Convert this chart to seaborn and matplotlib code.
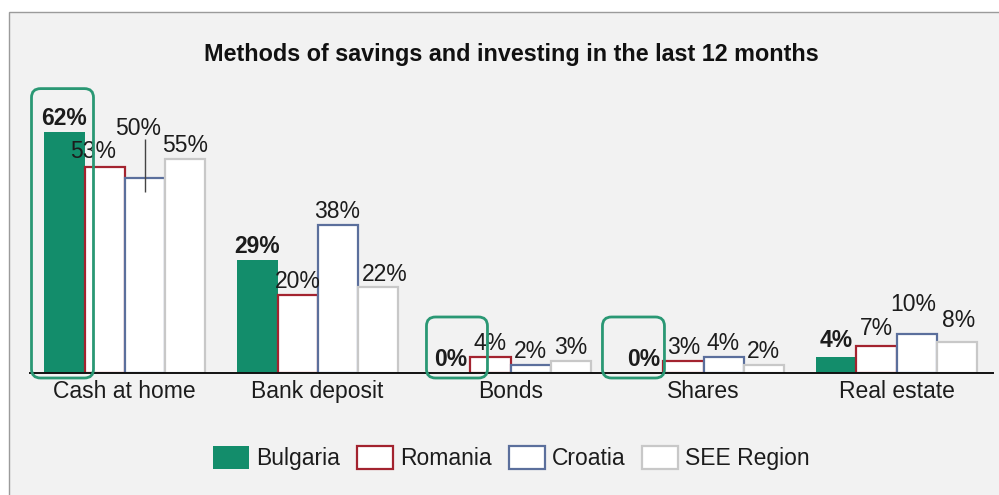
import matplotlib
matplotlib.use("Agg")
import matplotlib.pyplot as plt
import matplotlib.transforms as mtransforms
from matplotlib.patches import FancyBboxPatch, Rectangle
import pandas as pd
import seaborn as sns

# ---- data -------------------------------------------------------------
categories = ["Cash at home", "Bank deposit", "Bonds", "Shares", "Real estate"]
series = ["Bulgaria", "Romania", "Croatia", "SEE Region"]
bulgaria = [62, 29, 0, 0, 4]
romania = [53, 20, 4, 3, 7]
croatia = [50, 38, 2, 4, 10]
see_region = [55, 22, 3, 2, 8]
title = "Methods of savings and investing in the last 12 months"

values = {"Bulgaria": bulgaria, "Romania": romania,
          "Croatia": croatia, "SEE Region": see_region}
df = pd.DataFrame(
    [(c, s, values[s][i]) for s in series for i, c in enumerate(categories)],
    columns=["category", "series", "value"],
)

# ---- styling ----------------------------------------------------------
GREEN = "#138d6b"
fill = {"Bulgaria": GREEN, "Romania": "white", "Croatia": "white", "SEE Region": "white"}
edge = {"Bulgaria": GREEN, "Romania": "#a3232f", "Croatia": "#5b6f9c", "SEE Region": "#c8c8c8"}
edge_w = {"Bulgaria": 0.0, "Romania": 1.6, "Croatia": 1.6, "SEE Region": 1.6}

sns.set_theme(style="white")
plt.rcParams["font.family"] = ["Liberation Sans", "DejaVu Sans"]
TXT = "#1c1c1c"

W, H = 999, 495
fig = plt.figure(figsize=(W / 100, H / 100), dpi=100)
fig.patch.set_facecolor("white")

# grey panel with a thin border behind the chart
fig.add_artist(Rectangle((9 / W, -0.05), 1.0, (H - 12) / H + 0.05,
                         transform=fig.transFigure, facecolor="#f2f2f2",
                         edgecolor="#9b9b9b", linewidth=1.0, zorder=-10))

base_px, top_px = 373, 81
ax = fig.add_axes([30 / W, (H - base_px) / H, (993 - 30) / W, (base_px - top_px) / H])
ax.set_facecolor("none")

sns.barplot(data=df, x="category", y="value", hue="series",
            order=categories, hue_order=series, palette=fill,
            saturation=1, width=0.83, errorbar=None, legend=False, ax=ax)

for s, cont in zip(series, ax.containers):
    for p in cont.patches:
        p.set_edgecolor(edge[s])
        p.set_linewidth(edge_w[s])

ax.set_xlim(-0.49, 4.5)
ax.set_ylim(0, 75)
ax.set_xlabel("")
ax.set_ylabel("")
ax.set_yticks([])
for side in ("top", "left", "right"):
    ax.spines[side].set_visible(False)
ax.spines["bottom"].set_color("#111111")
ax.spines["bottom"].set_linewidth(1.4)
ax.tick_params(axis="x", length=0, pad=5, labelsize=16.5, labelcolor=TXT)

PT = 0.72  # points per pixel at 100 dpi

# value labels; a few are nudged (in pixels) to avoid overlaps
nudge = {
    ("Romania", 0): (-11, 9),
    ("SEE Region", 1): (7, 6),
    ("Bulgaria", 4): (0, 10),
    ("Romania", 4): (0, 11),
    ("Croatia", 4): (-3, 23),
    ("SEE Region", 4): (2, 15),
}
ppu = ax.transData.transform((0, 1))[1] - ax.transData.transform((0, 0))[1]
for s, cont in zip(series, ax.containers):
    for i, p in enumerate(cont.patches):
        v = values[s][i]
        xc = p.get_x() + p.get_width() / 2
        h = p.get_height()
        weight = "bold" if s == "Bulgaria" else "normal"
        if (s, i) == ("Croatia", 0):
            # label lifted above the neighbours with a leader line
            ax.plot([xc, xc], [h - 14 / ppu, h + 39 / ppu], color="#444444",
                    lw=1.0, solid_capstyle="butt", zorder=5)
            dx, dy = -6, 43
        else:
            dx, dy = nudge.get((s, i), (0, 7))
        ax.annotate(f"{v}%", (xc, h), xytext=(dx * PT, dy * PT),
                    textcoords="offset points", ha="center", va="baseline",
                    fontsize=16.5, fontweight=weight, color=TXT,
                    annotation_clip=False, zorder=6)

# rounded highlight frames around selected Bulgaria results
highlights = [(0, -33, 29, 43), (2, -24, 37, 56), (3, -41, 21, 56)]
ident = mtransforms.IdentityTransform()
for idx, left, right, above in highlights:
    p = ax.containers[0].patches[idx]
    xc = p.get_x() + p.get_width() / 2
    cx, ytop = ax.transData.transform((xc, p.get_height()))
    _, ybase = ax.transData.transform((xc, 0))
    x0, x1 = cx + left, cx + right
    y0, y1 = ybase - 5, ytop + above
    fig.add_artist(FancyBboxPatch((x0, y0), x1 - x0, y1 - y0,
                                  boxstyle="round,pad=0,rounding_size=9",
                                  transform=ident, facecolor="none",
                                  edgecolor="#2a9874", linewidth=2.0,
                                  clip_on=False, zorder=7))

# title centred over the plotting area
fig.text(511.5 / W, (H - 55) / H, title, ha="center", va="center",
         fontsize=16.8, fontweight="bold", color="#111111")

ax.legend(handles=list(ax.containers), labels=series, loc="center",
          bbox_to_anchor=(511.5 / W, (H - 458) / H), bbox_transform=fig.transFigure,
          ncol=4, frameon=False, fontsize=16.5, labelcolor=TXT,
          handlelength=1.57, handleheight=1.22, handletextpad=0.3,
          columnspacing=0.75, borderaxespad=0)

fig.savefig("out.png", dpi=100, facecolor=fig.get_facecolor())
